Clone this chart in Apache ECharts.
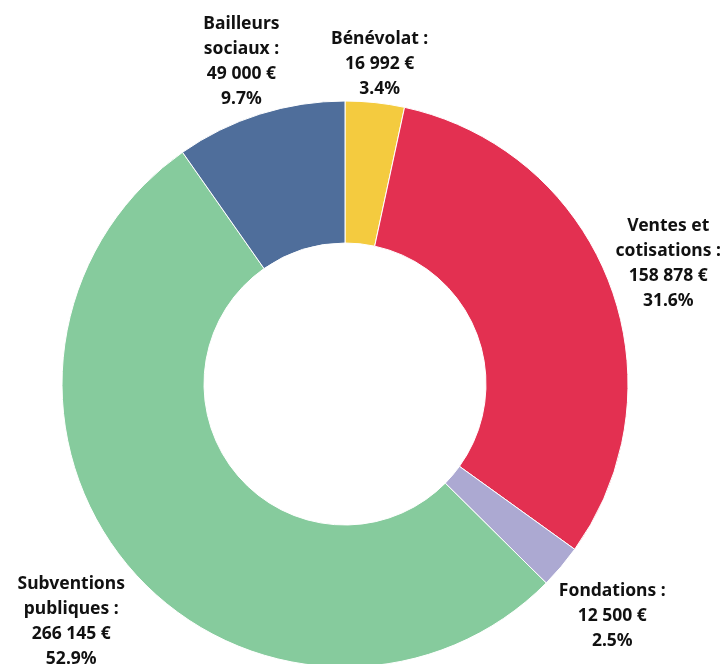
<!DOCTYPE html>
<html>
<head>
<meta charset="utf-8">
<script src="https://cdn.jsdelivr.net/npm/echarts@6/dist/echarts.min.js"></script>
<style>
  html, body { margin: 0; padding: 0; background: #fff; }
  #chart { width: 724px; height: 664px; }
</style>
</head>
<body>
<div id="chart"></div>
<script>
var categories = ['Bénévolat', 'Ventes et cotisations', 'Fondations', 'Subventions publiques', 'Bailleurs sociaux'];
var labelNames = ['Bénévolat', 'Ventes et\ncotisations', 'Fondations', 'Subventions\npubliques', 'Bailleurs\nsociaux'];
var values = [16992, 158878, 12500, 266145, 49000];
var colors = ['#F4CB3F', '#E33051', '#ACA9D2', '#86CB9D', '#4F6E9B'];

var total = values.reduce(function (a, b) { return a + b; }, 0);
var cx = 345, cy = 384, rOuter = 283, rInner = 141;

function fmtEuro(v) {
    return String(v).replace(/\B(?=(\d{3})+(?!\d))/g, ' ') + ' €';
}

// mid angle of each slice, measured clockwise from the top
var midAngles = [];
var acc = 0;
values.forEach(function (v) {
    midAngles.push((acc + v / 2) / total * Math.PI * 2);
    acc += v;
});

var chart = echarts.init(document.getElementById('chart'));

chart.setOption({
    animation: false,
    series: [{
        type: 'pie',
        center: [cx, cy],
        radius: [rInner, rOuter],
        startAngle: 90,
        clockwise: true,
        avoidLabelOverlap: false,
        itemStyle: { borderColor: '#fff', borderWidth: 1 },
        label: {
            show: true,
            position: 'outside',
            color: '#111',
            fontFamily: 'Noto Sans',
            fontWeight: 'bold',
            fontSize: 17.5,
            lineHeight: 25,
            formatter: function (p) {
                return labelNames[p.dataIndex] + ' :\n' + fmtEuro(p.value) + '\n' + (p.value / total * 100).toFixed(1) + '%';
            }
        },
        labelLine: { show: false },
        labelLayout: function (params) {
            var a = midAngles[params.dataIndex];
            var dx = Math.sin(a), dy = -Math.cos(a);
            var hw = params.labelRect.width / 2, hh = params.labelRect.height / 2;
            var d = rOuter + 2 + hw * Math.abs(dx) + hh * Math.abs(dy);
            return {
                x: Math.min(cx + d * dx, 721 - hw),
                y: cy + d * dy + 6,
                align: 'center',
                verticalAlign: 'middle'
            };
        },
        data: categories.map(function (c, i) {
            return { name: c, value: values[i], itemStyle: { color: colors[i] } };
        })
    }]
});
</script>
</body>
</html>
